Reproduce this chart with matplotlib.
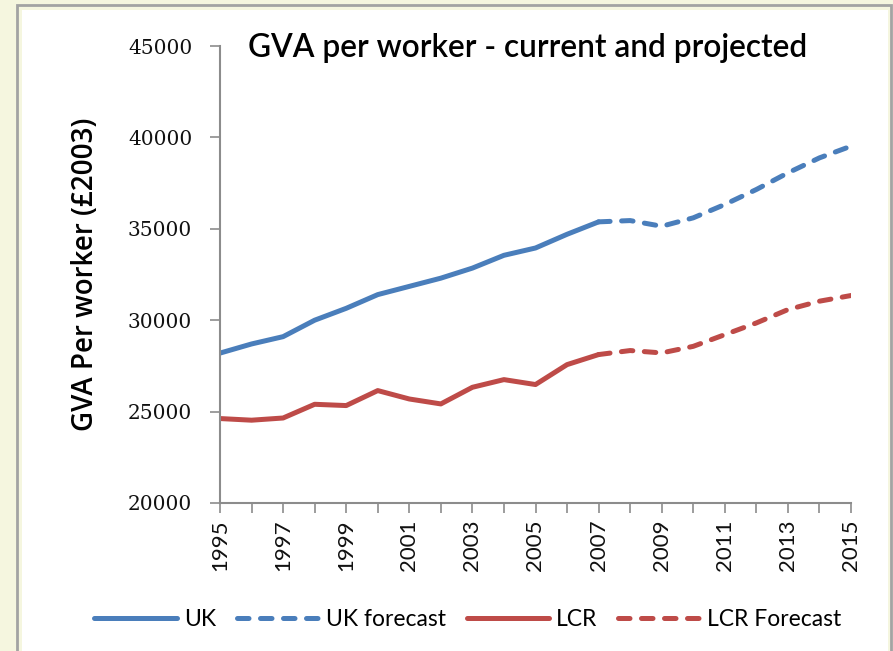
import matplotlib.pyplot as plt
from matplotlib.patches import Rectangle

years = list(range(1995, 2016))
uk_years = list(range(1995, 2008))
fc_years = list(range(2007, 2016))

uk = [28200, 28700, 29100, 30000, 30650, 31400, 31850, 32300, 32850,
      33550, 33950, 34700, 35380]
uk_forecast = [35380, 35450, 35140, 35600, 36330, 37150, 38060, 38880, 39520]
lcr = [24620, 24530, 24650, 25400, 25330, 26150, 25690, 25420, 26330,
       26750, 26480, 27570, 28120]
lcr_forecast = [28120, 28340, 28210, 28570, 29210, 29850, 30580, 31040, 31350]

blue = "#4A7EBB"
red = "#BE4B48"

fig = plt.figure(figsize=(8.93, 6.51), dpi=100, facecolor="#F5F6DF")
W, H = 893, 651

# outer frame like the excel chart area
fig.patches.append(Rectangle((17 / W, -0.05), 874 / W, 1.05 - 5 / H, transform=fig.transFigure,
                             facecolor="none", edgecolor="#A3A3A3", linewidth=2, zorder=-2))
fig.patches.append(Rectangle((22 / W, -0.05), 866 / W, 1.05 - 10 / H, transform=fig.transFigure,
                             facecolor="white", edgecolor="none", zorder=-1))

ax = fig.add_axes([220 / W, 1 - 503 / H, 631 / W, 457 / H])
ax.set_zorder(2)
ax.set_facecolor("none")

lw = 3.6
dash = (0, (2.3, 2.3))
ax.plot(uk_years, uk, color=blue, lw=lw, solid_capstyle="round", label="UK")
ax.plot(fc_years, uk_forecast, color=blue, lw=lw, ls=dash,
        dash_capstyle="round", label="UK forecast")
ax.plot(uk_years, lcr, color=red, lw=lw, solid_capstyle="round", label="LCR")
ax.plot(fc_years, lcr_forecast, color=red, lw=lw, ls=dash,
        dash_capstyle="round", label="LCR Forecast")

ax.set_xlim(1995, 2015)
ax.set_ylim(20000, 45000)
ax.set_yticks(range(20000, 45001, 5000))
ax.set_xticks(years, minor=True)
ax.set_xticks(years[::2])
ax.set_xticklabels([str(y) for y in years[::2]], rotation=90, family="Lato", fontsize=16,
                   color="#111111")
ax.set_yticklabels([str(v) for v in range(20000, 45001, 5000)], family="DejaVu Serif",
                   fontsize=14.5, color="#111111")

for s in ["top", "right"]:
    ax.spines[s].set_visible(False)
for s in ["left", "bottom"]:
    ax.spines[s].set_color("#8C8C8C")
    ax.spines[s].set_linewidth(1.5)
ax.tick_params(axis="both", which="both", direction="out", color="#8C8C8C", width=1.2)
ax.tick_params(axis="y", length=7, pad=13)
ax.tick_params(axis="x", which="both", length=7, pad=5)

ax.set_ylabel("GVA Per worker (£2003)", family="Open Sans", fontsize=20,
              fontweight="semibold", labelpad=20)

fig.text(528 / W, 1 - 48 / H, "GVA per worker - current and projected", family="Lato",
         fontsize=22.8, fontweight="semibold", ha="center", va="center")

fig.legend(loc="center", bbox_to_anchor=(468 / W, 1 - 620 / H), ncol=4, frameon=False,
           prop={"family": "Lato", "size": 16.5}, handlelength=3.6, columnspacing=0.9,
           handletextpad=0.3)

plt.savefig("out.png", dpi=100, facecolor=fig.get_facecolor())
